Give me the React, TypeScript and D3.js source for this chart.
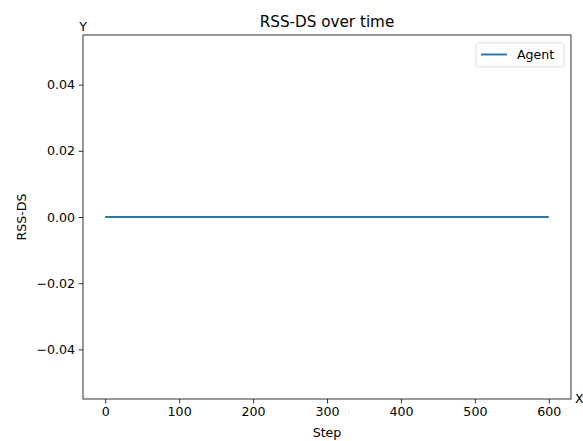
import * as d3 from 'd3'
import { useEffect, useRef } from 'react'

const steps = [0, 100, 200, 300, 400, 500, 600]
const rssDs = [0, 0, 0, 0, 0, 0, 0]
const xTicks = [0, 100, 200, 300, 400, 500, 600]
const yTicks = [-0.04, -0.02, 0, 0.02, 0.04]

const App = () => {
  const ref = useRef<SVGSVGElement>(null)

  useEffect(() => {
    const width = 583
    const height = 441
    const margin = { top: 35, right: 12, bottom: 42, left: 83 }
    const font = 'DejaVu Sans, sans-serif'

    const svg = d3.select(ref.current)
    svg.selectAll('*').remove()
    svg.attr('width', width).attr('height', height)

    svg.append('rect').attr('width', width).attr('height', height).attr('fill', '#fff')

    const x = d3
      .scaleLinear()
      .domain([-30, 630])
      .range([margin.left, width - margin.right])
    const y = d3
      .scaleLinear()
      .domain([-0.055, 0.055])
      .range([height - margin.bottom, margin.top])

    const fmt = (d: number) => d3.format('.2f')(d).replace('-', '\u2212')

    // X axis
    const gx = svg
      .append('g')
      .attr('transform', `translate(0, ${height - margin.bottom})`)
      .call(d3.axisBottom(x).tickValues(xTicks).tickSize(4.4).tickPadding(3.5).tickSizeOuter(0))
    gx.select('.domain').remove()
    gx.selectAll('text').style('font-family', font).style('font-size', '12.6px').attr('fill', '#000')
    gx.selectAll('line').attr('stroke', '#000').attr('stroke-width', 0.8)

    // Y axis
    const gy = svg
      .append('g')
      .attr('transform', `translate(${margin.left}, 0)`)
      .call(
        d3
          .axisLeft(y)
          .tickValues(yTicks)
          .tickFormat((d) => fmt(d as number))
          .tickSize(4.4)
          .tickPadding(3.5)
          .tickSizeOuter(0)
      )
    gy.select('.domain').remove()
    gy.selectAll('text').style('font-family', font).style('font-size', '12.6px').attr('fill', '#000')
    gy.selectAll('line').attr('stroke', '#000').attr('stroke-width', 0.8)

    // Line
    const line = d3
      .line<number>()
      .x((d, i) => x(steps[i]))
      .y((d) => y(d))
    svg
      .append('path')
      .datum(rssDs)
      .attr('d', line)
      .attr('fill', 'none')
      .attr('stroke', '#1f77b4')
      .attr('stroke-width', 1.9)

    // Frame
    svg
      .append('rect')
      .attr('x', margin.left)
      .attr('y', margin.top)
      .attr('width', width - margin.left - margin.right)
      .attr('height', height - margin.top - margin.bottom)
      .attr('fill', 'none')
      .attr('stroke', '#000')
      .attr('stroke-width', 0.8)

    // Labels
    svg
      .append('text')
      .attr('x', (margin.left + width - margin.right) / 2)
      .attr('y', 27)
      .attr('text-anchor', 'middle')
      .style('font-family', font)
      .style('font-size', '15.2px')
      .text('RSS-DS over time')

    svg
      .append('text')
      .attr('x', (margin.left + width - margin.right) / 2)
      .attr('y', 437)
      .attr('text-anchor', 'middle')
      .style('font-family', font)
      .style('font-size', '12.6px')
      .text('Step')

    svg
      .append('text')
      .attr('transform', `translate(26, ${(margin.top + height - margin.bottom) / 2}) rotate(-90)`)
      .attr('text-anchor', 'middle')
      .style('font-family', font)
      .style('font-size', '12.6px')
      .text('RSS-DS')

    svg
      .append('text')
      .attr('x', margin.left)
      .attr('y', 31)
      .attr('text-anchor', 'middle')
      .style('font-family', font)
      .style('font-size', '12.6px')
      .text('Y')

    svg
      .append('text')
      .attr('x', width - margin.right + 4)
      .attr('y', height - margin.bottom + 4)
      .style('font-family', font)
      .style('font-size', '12.6px')
      .text('X')

    // Legend
    const lg = svg.append('g').attr('transform', 'translate(476, 43)')
    lg.append('rect')
      .attr('width', 88)
      .attr('height', 24)
      .attr('rx', 3)
      .attr('fill', '#fff')
      .attr('fill-opacity', 0.8)
      .attr('stroke', '#d9d9d9')
      .attr('stroke-width', 0.9)
    lg.append('line')
      .attr('x1', 5)
      .attr('x2', 31)
      .attr('y1', 11.5)
      .attr('y2', 11.5)
      .attr('stroke', '#1f77b4')
      .attr('stroke-width', 1.9)
    lg.append('text')
      .attr('x', 41)
      .attr('y', 16)
      .style('font-family', font)
      .style('font-size', '12.6px')
      .text('Agent')
  }, [])

  return (
    <div style={{ position: 'absolute', left: 0, top: 0 }}>
      <svg ref={ref}></svg>
    </div>
  )
}
export default App
